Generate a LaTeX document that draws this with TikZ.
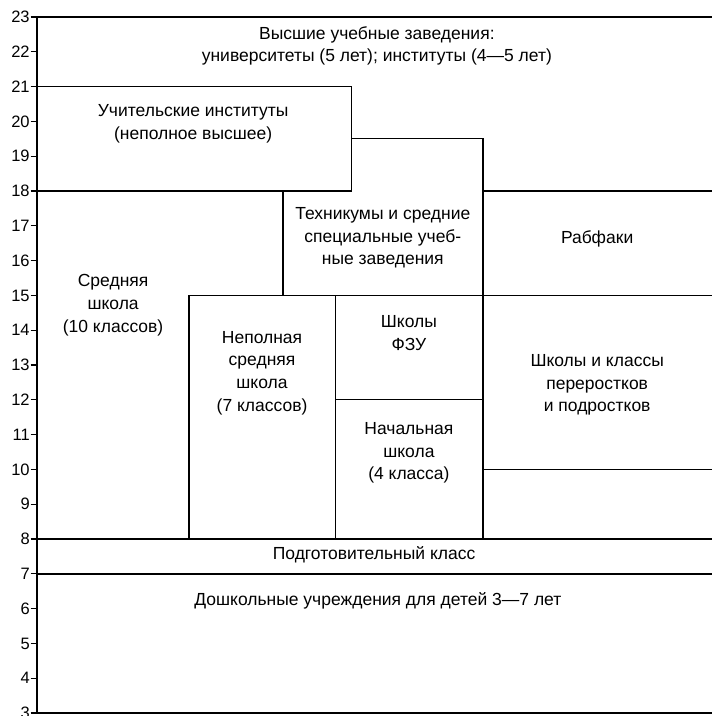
\documentclass[tikz,border=0pt]{standalone}
\usepackage{fontspec}
\setmainfont{Liberation Sans}
\usetikzlibrary{positioning}
\tikzset{txt/.style={align=center, inner sep=0pt, font=\fontsize{14.3}{18.5}\selectfont},
         yr/.style={anchor=east, inner sep=0pt, font=\fontsize{13.5}{15}\selectfont},
         thin/.style={line width=1pt},
         thick/.style={line width=1.7pt},
        }

\begin{document}
\begin{tikzpicture}
        \useasboundingbox (0,2.915) rectangle (20.46,23.49);
        \draw[thick](1.06,3)--(1.06,23);
        \foreach \y in {3,...,23}{
            \draw[thin](0.88,\y)--(1.06,\y);
            \node[yr](y\y)at(0.86,\y){\y};
        }

        \draw[thick](1.06,23)--(20.46,23);
        \draw[thin](1.06,21)--(10.09,21)--(10.09,18)--(1.06,18);
        \draw[thin](10.09,19.5)--(13.88,19.5)--(13.88,8);
        \draw[thin](8.13,18)--(8.13,15);
        \draw[thin](13.88,18)--(20.46,18);
        \draw[thin](5.43,8)--(5.43,15)--(20.46,15);
        \draw[thin](9.63,15)--(9.63,8);
        \draw[thin](9.63,12)--(13.88,12);
        \draw[thin](13.88,10)--(20.46,10);
        \draw[thin](1.06,8)--(20.46,8);
        \draw[thick](1.06,7)--(20.46,7);
        \draw[thick](1.06,3)--(20.46,3);

        \node[txt](vuz)at(10.83,22.17){Высшие учебные заведения:\\университеты (5 лет); институты (4—5 лет)};
        \node[txt](uchin)at(5.55,19.93){Учительские институты\\(неполное высшее)};
        \node[txt](tehn)at(11.0,16.65){Техникумы и средние\\специальные учеб-\\ные заведения};
        \node[txt](rabf)at(17.16,16.62){Рабфаки};
        \node[txt](sred)at(3.25,14.72){Средняя\\школа\\(10 классов)};
        \node[txt](nepol)at(7.53,12.77){Неполная\\средняя\\школа\\(7 классов)};
        \node[txt](fzu)at(11.75,13.92){Школы\\ФЗУ};
        \node[txt](pererost)at(17.16,12.43){Школы и классы\\переростков\\и подростков};
        \node[txt](nach)at(11.75,10.47){Начальная\\школа\\(4 класса)};
        \node[txt](podg)at(10.75,7.54){Подготовительный класс};
        \node[txt](doshk)at(10.86,6.22){Дошкольные учреждения для детей 3—7 лет};
    \end{tikzpicture}
\end{document}
